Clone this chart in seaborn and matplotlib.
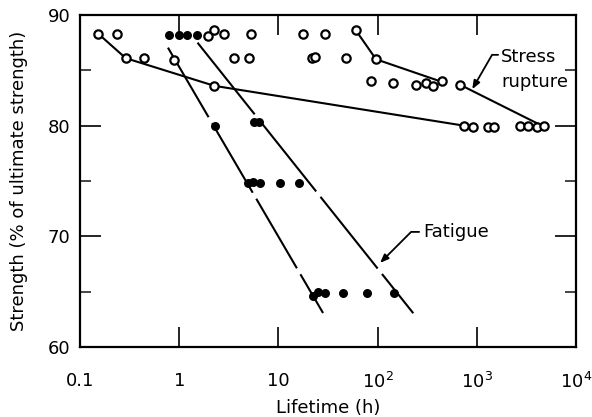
import numpy as np
import pandas as pd
import matplotlib
matplotlib.use("Agg")
import matplotlib.pyplot as plt
import seaborn as sns

# ---- data ----
# stress rupture tests (open circles)
rupture_hours = [0.153, 0.234, 1.94, 2.26, 2.83, 5.3, 17.7, 29.5, 60.5,
                 0.289, 0.442, 0.89, 3.56, 5.05, 21.7, 23.4, 47.6, 96.4,
                 2.26, 85.1, 142, 242, 308, 364, 443, 677,
                 743, 922, 1290, 1500, 2725, 3305, 4015, 4795]
rupture_strength = [88.3, 88.3, 88.1, 88.6, 88.3, 88.3, 88.3, 88.3, 88.6,
                    86.1, 86.1, 85.9, 86.1, 86.1, 86.1, 86.2, 86.1, 86.0,
                    83.6, 84.0, 83.9, 83.7, 83.9, 83.6, 84.0, 83.7,
                    80.0, 79.85, 79.9, 79.9, 80.0, 80.0, 79.85, 80.0]

# fatigue tests (filled circles)
fatigue_hours = [0.794, 0.995, 1.21, 1.50,
                 2.30, 5.72, 6.42,
                 4.98, 5.51, 6.53, 10.4, 16.2,
                 22.5, 25.2, 29.5, 45.1, 78.7, 146]
fatigue_strength = [88.2, 88.2, 88.2, 88.2,
                    80.0, 80.3, 80.3,
                    74.85, 74.9, 74.85, 74.85, 74.85,
                    64.6, 65.0, 64.85, 64.85, 64.85, 64.9]

# fitted lines
rupture_line1_x = [0.153, 0.289, 2.26, 743]
rupture_line1_y = [88.3, 86.1, 83.6, 80.0]
rupture_line2_x = [60.5, 96.4, 400]
rupture_line2_y = [88.6, 86.0, 84.1]
rupture_line3_x = [677, 4300]
rupture_line3_y = [83.7, 80.1]
fatigue_line1_x = [0.77, 28.2]
fatigue_line1_y = [87.05, 63.07]
fatigue_line2_x = [1.53, 229]
fatigue_line2_y = [87.5, 63.05]

x_ticks = [0.1, 1, 10, 100, 1000, 10000]
x_tick_labels = ["0.1", "1", "10", r"$10^2$", r"$10^3$", r"$10^4$"]
y_ticks = [60, 70, 80, 90]

# ---- style ----
sns.set_style("ticks")
plt.rcParams["font.family"] = ["DejaVu Sans"]
plt.rcParams["mathtext.fontset"] = "dejavusans"
plt.rcParams["lines.scale_dashes"] = False
plt.rcParams["text.color"] = "black"
plt.rcParams["axes.labelcolor"] = "black"

fig = plt.figure(figsize=(5.92, 4.17), dpi=100)
ax = fig.add_axes([80 / 592, 1 - 347 / 417, 496 / 592, 332 / 417])

lw = 1.5
lines = [
    (rupture_line1_x, rupture_line1_y, "-"),
    (rupture_line2_x, rupture_line2_y, "-"),
    (rupture_line3_x, rupture_line3_y, "-"),
    (fatigue_line1_x, fatigue_line1_y, (0, (58, 5))),
    (fatigue_line2_x, fatigue_line2_y, (0, (66, 5))),
]
for xs, ys, ls in lines:
    sns.lineplot(x=xs, y=ys, ax=ax, color="black", linewidth=lw,
                 linestyle=ls, sort=False, estimator=None, zorder=2)

open_df = pd.DataFrame({"hours": rupture_hours, "strength": rupture_strength})
fill_df = pd.DataFrame({"hours": fatigue_hours, "strength": fatigue_strength})
sns.scatterplot(data=open_df, x="hours", y="strength", ax=ax, s=36,
                facecolor="white", edgecolor="black", linewidth=1.6, zorder=3)
sns.scatterplot(data=fill_df, x="hours", y="strength", ax=ax, s=42,
                color="black", edgecolor="black", linewidth=0, zorder=3)

ax.set_xscale("log")
ax.set_xlim(0.1, 10000)
ax.set_ylim(60, 90)
ax.set_xticks(x_ticks)
ax.set_xticklabels(x_tick_labels)
ax.xaxis.set_minor_locator(matplotlib.ticker.NullLocator())
ax.set_yticks(y_ticks)
ax.set_yticks([65, 75, 85], minor=True)

ax.tick_params(axis="x", which="major", direction="in", length=14.5, width=1.2,
               top=True, bottom=True, pad=18, labelsize=13, colors="black")
ax.tick_params(axis="y", which="major", direction="in", length=15, width=1.2,
               left=True, right=True, pad=7, labelsize=13, colors="black")
ax.tick_params(axis="y", which="minor", direction="in", length=8, width=1.2,
               left=True, right=True)
for sp in ax.spines.values():
    sp.set_linewidth(1.6)
    sp.set_color("black")

ax.set_xlabel("Lifetime (h)", fontsize=13, labelpad=5)
ax.set_ylabel("Strength (% of ultimate strength)", fontsize=13, labelpad=14)

# annotations
ax.text(1750, 86.2, "Stress", fontsize=13, ha="left", va="center")
ax.text(1750, 83.95, "rupture", fontsize=13, ha="left", va="center")
ax.annotate("", xy=(900, 83.3), xytext=(1640, 86.4),
            arrowprops=dict(arrowstyle="-|>,head_length=0.5,head_width=0.2",
                            connectionstyle="angle,angleA=0,angleB=60,rad=0",
                            color="black", lw=1.3, shrinkA=0, shrinkB=0))
ax.text(287, 70.4, "Fatigue", fontsize=13, ha="left", va="center")
ax.annotate("", xy=(106, 67.6), xytext=(262, 70.4),
            arrowprops=dict(arrowstyle="-|>,head_length=0.5,head_width=0.2",
                            connectionstyle="angle,angleA=0,angleB=45,rad=0",
                            color="black", lw=1.3, shrinkA=0, shrinkB=0))

fig.savefig("out.png", dpi=100)
